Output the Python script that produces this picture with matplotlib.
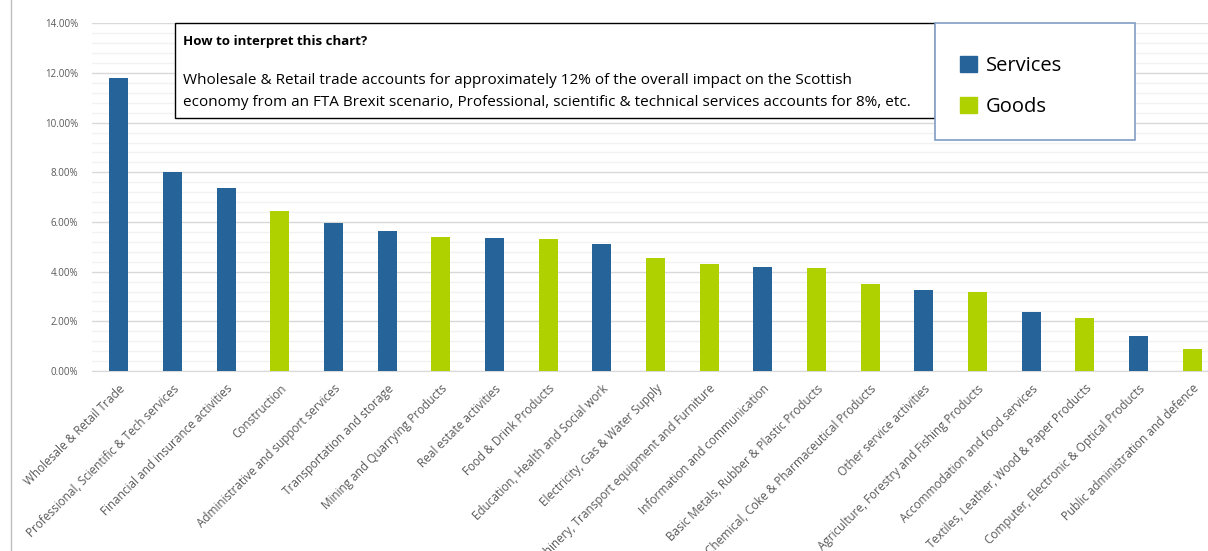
import numpy as np
import matplotlib
matplotlib.use("Agg")
from matplotlib import pyplot as plt
from matplotlib.patches import Rectangle, Patch
from matplotlib.lines import Line2D
from matplotlib.ticker import MultipleLocator, FuncFormatter

plt.rcParams['font.family'] = ['Open Sans', 'DejaVu Sans']

# share of overall impact (%) by sector
sectors = [
    'Wholesale & Retail Trade',
    'Professional, Scientific & Tech services',
    'Financial and insurance activities',
    'Construction',
    'Administrative and support services',
    'Transportation and storage',
    'Mining and Quarrying Products',
    'Real estate activities',
    'Food & Drink Products',
    'Education, Health and Social work',
    'Electricity, Gas & Water Supply',
    'Machinery, Transport equipment and Furniture',
    'Information and communication',
    'Basic Metals, Rubber & Plastic Products',
    'Chemical, Coke & Pharmaceutical Products',
    'Other service activities',
    'Agriculture, Forestry and Fishing Products',
    'Accommodation and food services',
    'Textiles, Leather, Wood & Paper Products',
    'Computer, Electronic & Optical Products',
    'Public administration and defence',
]
impact = [11.78, 8.00, 7.35, 6.44, 5.95, 5.64, 5.41, 5.37, 5.33, 5.10, 4.54,
          4.31, 4.20, 4.15, 3.50, 3.25, 3.17, 2.36, 2.13, 1.41, 0.89]
kind = ['Services', 'Services', 'Services', 'Goods', 'Services', 'Services',
        'Goods', 'Services', 'Goods', 'Services', 'Goods', 'Goods', 'Services',
        'Goods', 'Goods', 'Services', 'Goods', 'Services', 'Goods', 'Services',
        'Goods']

colours = {'Services': '#266398', 'Goods': '#B0D100'}
grey = '#595959'

fig = plt.figure(figsize=(12.08, 5.51), dpi=100)
W, H = 1208, 551
ax = fig.add_axes([92 / W, 1 - 371 / H, 1127 / W, 347.7 / H])

x = np.arange(len(sectors))
ax.bar(x, impact, width=0.355, color=[colours[k] for k in kind], zorder=3)

ax.set_xlim(-0.5, len(sectors) - 0.5)
ax.set_ylim(0, 14)
ax.yaxis.set_major_locator(MultipleLocator(2))
ax.yaxis.set_minor_locator(MultipleLocator(0.4))
ax.yaxis.set_major_formatter(FuncFormatter(lambda v, p: '%.2f%%' % v))
ax.grid(axis='y', which='major', color='#D9D9D9', lw=1, zorder=0)
ax.grid(axis='y', which='minor', color='#F2F2F2', lw=1, zorder=0)
for s in ['top', 'right', 'left']:
    ax.spines[s].set_visible(False)
ax.spines['bottom'].set_color('#D9D9D9')
ax.tick_params(axis='both', which='both', length=0)
ax.tick_params(axis='y', labelsize=7, labelcolor=grey, pad=10)

ax.set_xticks(x)
ax.set_xticklabels(sectors, rotation=45, ha='right', rotation_mode='anchor',
                   fontsize=8.5, color=grey)
ax.tick_params(axis='x', pad=8)

# explanatory note
fig.add_artist(Rectangle((175 / W, 1 - 118 / H), 760 / W, 95 / H,
                         transform=fig.transFigure, fill=True, fc='white',
                         ec='black', lw=1, zorder=5))
fig.text(183 / W, 1 - 41 / H, 'How to interpret this chart?', fontsize=9.5,
         fontweight='bold', va='center', zorder=6)
fig.text(183 / W, 1 - 80 / H,
         'Wholesale & Retail trade accounts for approximately 12% of the overall impact on the Scottish',
         fontsize=11, va='center', zorder=6)
fig.text(183 / W, 1 - 103 / H,
         'economy from an FTA Brexit scenario, Professional, scientific & technical services accounts for 8%, etc.',
         fontsize=11, va='center', zorder=6)

# legend box
fig.add_artist(Rectangle((935 / W, 1 - 140 / H), 200 / W, 117 / H,
                         transform=fig.transFigure, fill=True, fc='white',
                         ec='#7F9DC4', lw=1.2, zorder=5))
handles = [Patch(color=colours[k], label=k) for k in ['Services', 'Goods']]
leg = fig.legend(handles=handles, loc='upper left',
                 bbox_to_anchor=(960 / W, 1 - 56 / H), frameon=False,
                 fontsize=14.5, handlelength=0.85, handleheight=0.85,
                 labelspacing=1.05, handletextpad=0.45, borderpad=0,
                 borderaxespad=0)
leg.set_zorder(6)

fig.add_artist(Line2D([10.5 / W, 10.5 / W], [0, 1], transform=fig.transFigure,
                      color='#BFBFBF', lw=1))

plt.savefig('out.png', dpi=100)
